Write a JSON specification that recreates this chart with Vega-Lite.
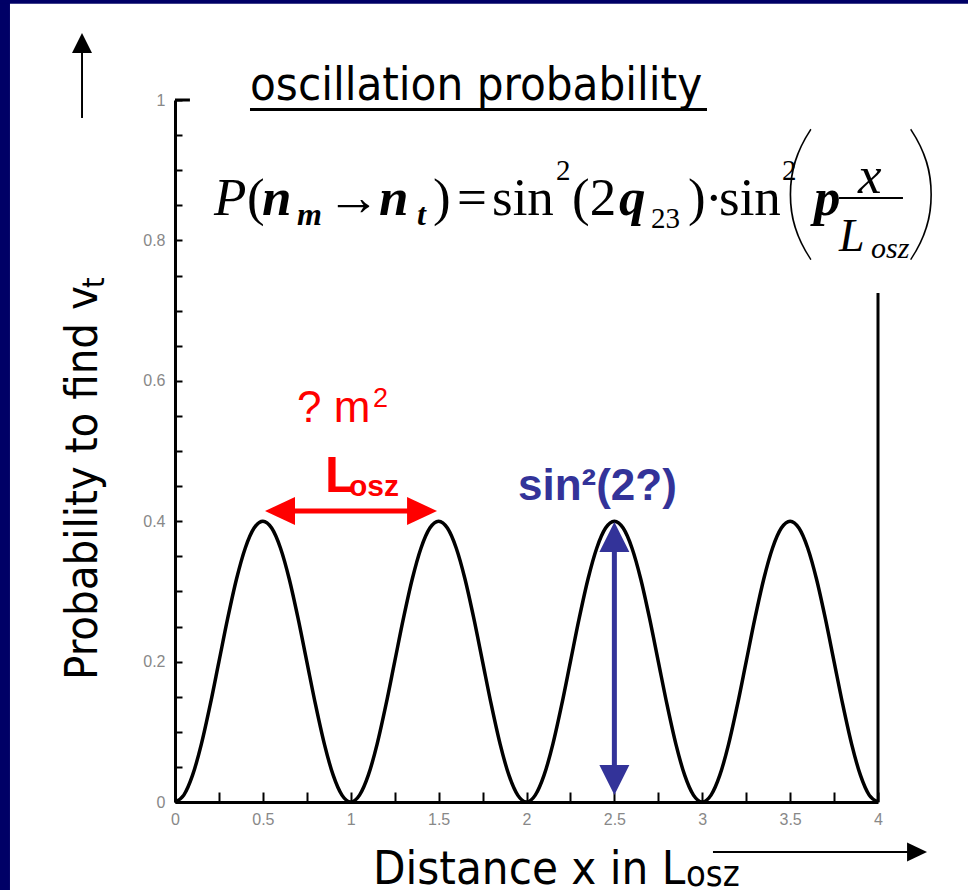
{
"$schema":"https://vega.github.io/schema/vega-lite/v6.json",
"width":703,"height":702,
"autosize":{"type":"none"},
"padding":{"left":175,"top":100,"right":90,"bottom":88},
"background":"white",
"config":{"view":{"stroke":null},
"axis":{"grid":false,"domainColor":"black","domainWidth":3,"tickColor":"black","tickWidth":2,"labelFont":"Liberation Sans","labelFontSize":16,"labelColor":"#888888","title":null,"labelFlush":false,"labelOverlap":false,"labelBound":false,"format":"~g"}},
"encoding":{
"x":{"field":"x","type":"quantitative","scale":{"domain":[0,4],"nice":false,"zero":false},
"axis":{"values":[0,0.25,0.5,0.75,1,1.25,1.5,1.75,2,2.25,2.5,2.75,3,3.25,3.5,3.75,4],"labelExpr":"(round(datum.value*4)%2==0) ? datum.label : ''","tickSize":-10,"labelPadding":19}},
"y":{"field":"y","type":"quantitative","scale":{"domain":[0,1],"nice":false,"zero":false},
"axis":{"values":[0,0.05,0.1,0.15,0.2,0.25,0.3,0.35,0.4,0.45,0.5,0.55,0.6,0.65,0.7,0.75,0.8,0.85,0.9,0.95,1],"labelExpr":"(round(datum.value*20)%4==0) ? datum.label : ''","tickSize":-7,"labelPadding":17}}
},
"layer":[
{"data":{"values":[{"x":-1.2,"x2":-0.939,"y":-0.2,"y2":1.2},{"x":-1.2,"x2":4.6,"y":1.137,"y2":1.2}]},
 "mark":{"type":"rect","fill":"#000066","clip":false},
 "encoding":{"x2":{"field":"x2"},"y2":{"field":"y2"}}},
{"data":{"values":[
{"x":0,"y":0},{"x":0.05,"y":0.0098},{"x":0.1,"y":0.0382},{"x":0.15,"y":0.0824},{"x":0.2,"y":0.1382},{"x":0.25,"y":0.2},{"x":0.3,"y":0.2618},{"x":0.35,"y":0.3176},{"x":0.4,"y":0.3618},{"x":0.45,"y":0.3902},
{"x":0.5,"y":0.4},{"x":0.55,"y":0.3902},{"x":0.6,"y":0.3618},{"x":0.65,"y":0.3176},{"x":0.7,"y":0.2618},{"x":0.75,"y":0.2},{"x":0.8,"y":0.1382},{"x":0.85,"y":0.0824},{"x":0.9,"y":0.0382},{"x":0.95,"y":0.0098},
{"x":1,"y":0},{"x":1.05,"y":0.0098},{"x":1.1,"y":0.0382},{"x":1.15,"y":0.0824},{"x":1.2,"y":0.1382},{"x":1.25,"y":0.2},{"x":1.3,"y":0.2618},{"x":1.35,"y":0.3176},{"x":1.4,"y":0.3618},{"x":1.45,"y":0.3902},
{"x":1.5,"y":0.4},{"x":1.55,"y":0.3902},{"x":1.6,"y":0.3618},{"x":1.65,"y":0.3176},{"x":1.7,"y":0.2618},{"x":1.75,"y":0.2},{"x":1.8,"y":0.1382},{"x":1.85,"y":0.0824},{"x":1.9,"y":0.0382},{"x":1.95,"y":0.0098},
{"x":2,"y":0},{"x":2.05,"y":0.0098},{"x":2.1,"y":0.0382},{"x":2.15,"y":0.0824},{"x":2.2,"y":0.1382},{"x":2.25,"y":0.2},{"x":2.3,"y":0.2618},{"x":2.35,"y":0.3176},{"x":2.4,"y":0.3618},{"x":2.45,"y":0.3902},
{"x":2.5,"y":0.4},{"x":2.55,"y":0.3902},{"x":2.6,"y":0.3618},{"x":2.65,"y":0.3176},{"x":2.7,"y":0.2618},{"x":2.75,"y":0.2},{"x":2.8,"y":0.1382},{"x":2.85,"y":0.0824},{"x":2.9,"y":0.0382},{"x":2.95,"y":0.0098},
{"x":3,"y":0},{"x":3.05,"y":0.0098},{"x":3.1,"y":0.0382},{"x":3.15,"y":0.0824},{"x":3.2,"y":0.1382},{"x":3.25,"y":0.2},{"x":3.3,"y":0.2618},{"x":3.35,"y":0.3176},{"x":3.4,"y":0.3618},{"x":3.45,"y":0.3902},
{"x":3.5,"y":0.4},{"x":3.55,"y":0.3902},{"x":3.6,"y":0.3618},{"x":3.65,"y":0.3176},{"x":3.7,"y":0.2618},{"x":3.75,"y":0.2},{"x":3.8,"y":0.1382},{"x":3.85,"y":0.0824},{"x":3.9,"y":0.0382},{"x":3.95,"y":0.0098},
{"x":4,"y":0}]},
 "mark":{"type":"line","color":"black","strokeWidth":3.5,"interpolate":"monotone"}},
{"data":{"values":[{"x":4,"x2":4,"y":0,"y2":0.725},{"x":0,"x2":0.085,"y":1,"y2":1},{"x":0.4267,"x2":3.027,"y":0.9865,"y2":0.9865}]},
 "mark":{"type":"rule","color":"black","strokeWidth":3,"clip":false},
 "encoding":{"x2":{"field":"x2"},"y2":{"field":"y2"}}},
{"data":{"values":[{"x":-0.529,"x2":-0.529,"y":0.9744,"y2":1.075},{"x":3.061,"x2":4.19,"y":-0.0712,"y2":-0.0712},{"x":3.778,"x2":4.142,"y":0.8604,"y2":0.8604}]},
 "mark":{"type":"rule","color":"black","strokeWidth":2,"clip":false},
 "encoding":{"x2":{"field":"x2"},"y2":{"field":"y2"}}},
{"data":{"values":[{"x":0.6,"x2":1.4,"y":0.4145,"y2":0.4145}]},
 "mark":{"type":"rule","color":"#ff0000","strokeWidth":5,"clip":false},
 "encoding":{"x2":{"field":"x2"},"y2":{"field":"y2"}}},
{"data":{"values":[{"x":2.5,"x2":2.5,"y":0.05,"y2":0.37}]},
 "mark":{"type":"rule","color":"#333399","strokeWidth":5,"clip":false},
 "encoding":{"x2":{"field":"x2"},"y2":{"field":"y2"}}},
{"data":{"values":[{"x":-0.529,"y":1.0954}]},
 "mark":{"type":"point","shape":"M0,0L1,2L-1,2Z","size":400,"filled":true,"color":"black","opacity":1,"clip":false}},
{"data":{"values":[{"x":4.279,"y":-0.0712}]},
 "mark":{"type":"point","shape":"M0,0L-2,-0.95L-2,0.95Z","size":400,"filled":true,"color":"black","opacity":1,"clip":false}},
{"data":{"values":[{"x":2.5,"y":0.399}]},
 "mark":{"type":"point","shape":"M0,0L1,2L-1,2Z","size":900,"filled":true,"color":"#333399","opacity":1,"clip":false}},
{"data":{"values":[{"x":2.5,"y":0.01}]},
 "mark":{"type":"point","shape":"M0,0L1,-2L-1,-2Z","size":900,"filled":true,"color":"#333399","opacity":1,"clip":false}},
{"data":{"values":[{"x":0.512,"y":0.4145}]},
 "mark":{"type":"point","shape":"M0,0L2,-0.93L2,0.93Z","size":900,"filled":true,"color":"#ff0000","opacity":1,"clip":false}},
{"data":{"values":[{"x":1.491,"y":0.4145}]},
 "mark":{"type":"point","shape":"M0,0L-2,-0.93L-2,0.93Z","size":900,"filled":true,"color":"#ff0000","opacity":1,"clip":false}},
{"data":{"values":[{"x":0.4267,"y":1.0,"t":"oscillation probability"},{"x":1.1266,"y":-0.1168,"t":"Distance x in L"}]},
 "mark":{"type":"text","font":"DejaVu Sans Condensed","fontSize":47,"color":"black","align":"left","baseline":"alphabetic","clip":false},
 "encoding":{"text":{"field":"t"}}},
{"data":{"values":[{"x":2.9075,"y":-0.1197,"t":"osz"}]},
 "mark":{"type":"text","font":"DejaVu Sans Condensed","fontSize":36,"color":"black","align":"left","baseline":"alphabetic","clip":false},
 "encoding":{"text":{"field":"t"}}},
{"data":{"values":[{"x":-0.4438,"y":0.1738,"t":"Probability to find v"}]},
 "mark":{"type":"text","font":"DejaVu Sans Condensed","fontSize":45,"color":"black","align":"left","baseline":"alphabetic","angle":270,"clip":false},
 "encoding":{"text":{"field":"t"}}},
{"data":{"values":[{"x":-0.404,"y":0.7322,"t":"t"}]},
 "mark":{"type":"text","font":"DejaVu Sans Condensed","fontSize":30,"color":"black","align":"left","baseline":"alphabetic","angle":270,"clip":false},
 "encoding":{"text":{"field":"t"}}},
{"data":{"values":[{"x":0.4097,"y":0.8362,"t":"("},{"x":0.8649,"y":0.8362,"t":"→"},{"x":1.468,"y":0.8362,"t":")"},{"x":1.6046,"y":0.8362,"t":"="},{"x":1.8037,"y":0.8362,"t":"sin"},{"x":2.2589,"y":0.8362,"t":"(2"},{"x":2.9189,"y":0.8362,"t":")"},{"x":3.0156,"y":0.8362,"t":"·"},{"x":3.0954,"y":0.8362,"t":"sin"}]},
 "mark":{"type":"text","font":"Liberation Serif","fontSize":53,"color":"black","align":"left","baseline":"alphabetic","clip":false},
 "encoding":{"text":{"field":"t"}}},
{"data":{"values":[{"x":0.2219,"y":0.8362,"t":"P"},{"x":3.8862,"y":0.8675,"t":"x"}]},
 "mark":{"type":"text","font":"Liberation Serif","fontSize":53,"fontStyle":"italic","color":"black","align":"left","baseline":"alphabetic","clip":false},
 "encoding":{"text":{"field":"t"}}},
{"data":{"values":[{"x":0.495,"y":0.8362,"t":"n"},{"x":1.1607,"y":0.8362,"t":"n"},{"x":2.5263,"y":0.8362,"t":"q"},{"x":3.6359,"y":0.8362,"t":"p"}]},
 "mark":{"type":"text","font":"Liberation Serif","fontSize":53,"fontStyle":"italic","fontWeight":"bold","color":"black","align":"left","baseline":"alphabetic","clip":false},
 "encoding":{"text":{"field":"t"}}},
{"data":{"values":[{"x":0.6942,"y":0.8219,"t":"m"},{"x":1.377,"y":0.8219,"t":"t"}]},
 "mark":{"type":"text","font":"Liberation Serif","fontSize":32,"fontStyle":"italic","fontWeight":"bold","color":"black","align":"left","baseline":"alphabetic","clip":false},
 "encoding":{"text":{"field":"t"}}},
{"data":{"values":[{"x":2.7083,"y":0.8177,"t":"23"},{"x":2.1679,"y":0.886,"t":"2"},{"x":3.4538,"y":0.886,"t":"2"}]},
 "mark":{"type":"text","font":"Liberation Serif","fontSize":29,"color":"black","align":"left","baseline":"alphabetic","clip":false},
 "encoding":{"text":{"field":"t"}}},
{"data":{"values":[{"x":3.7781,"y":0.7849,"t":"L"}]},
 "mark":{"type":"text","font":"Liberation Serif","fontSize":46,"fontStyle":"italic","color":"black","align":"left","baseline":"alphabetic","clip":false},
 "encoding":{"text":{"field":"t"}}},
{"data":{"values":[{"x":3.9602,"y":0.7749,"t":"osz"}]},
 "mark":{"type":"text","font":"Liberation Serif","fontSize":30,"fontStyle":"italic","color":"black","align":"left","baseline":"alphabetic","clip":false},
 "encoding":{"text":{"field":"t"}}},
{"data":{"values":[{"x":3.4424,"y":0.7977,"t":"("},{"x":4.1479,"y":0.7977,"t":")"}]},
 "mark":{"type":"text","font":"Lato","fontSize":150,"fontWeight":200,"color":"black","align":"left","baseline":"alphabetic","clip":false},
 "encoding":{"text":{"field":"t"}}},
{"data":{"values":[{"x":0.6942,"y":0.5413,"t":"? m"}]},
 "mark":{"type":"text","font":"Liberation Sans","fontSize":44,"color":"#ff0000","align":"left","baseline":"alphabetic","clip":false},
 "encoding":{"text":{"field":"t"}}},
{"data":{"values":[{"x":1.1266,"y":0.5627,"t":"2"}]},
 "mark":{"type":"text","font":"Liberation Sans","fontSize":27,"color":"#ff0000","align":"left","baseline":"alphabetic","clip":false},
 "encoding":{"text":{"field":"t"}}},
{"data":{"values":[{"x":0.8535,"y":0.4416,"t":"L"}]},
 "mark":{"type":"text","font":"Liberation Sans","fontSize":50,"fontWeight":"bold","color":"#ff0000","align":"left","baseline":"alphabetic","clip":false},
 "encoding":{"text":{"field":"t"}}},
{"data":{"values":[{"x":0.99,"y":0.4359,"t":"osz"}]},
 "mark":{"type":"text","font":"Liberation Sans","fontSize":30,"fontWeight":"bold","color":"#ff0000","align":"left","baseline":"alphabetic","clip":false},
 "encoding":{"text":{"field":"t"}}},
{"data":{"values":[{"x":1.9516,"y":0.4302,"t":"sin²(2?)"}]},
 "mark":{"type":"text","font":"Liberation Sans","fontSize":44,"fontWeight":"bold","color":"#333399","align":"left","baseline":"alphabetic","clip":false},
 "encoding":{"text":{"field":"t"}}}
]
}
